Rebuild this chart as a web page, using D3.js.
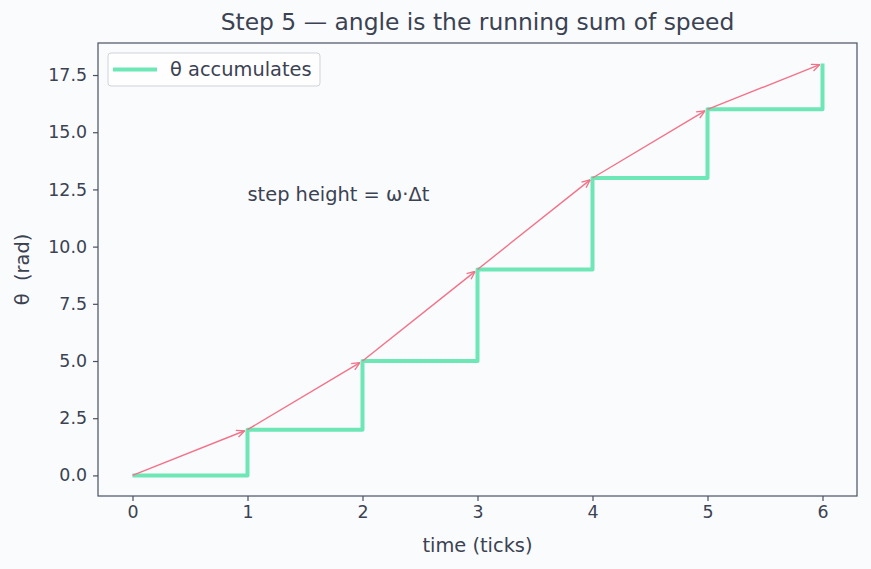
<!DOCTYPE html>
<html lang="en">
<head>
<meta charset="UTF-8">
<title>Step 5 — angle is the running sum of speed</title>
<script src="https://d3js.org/d3.v7.min.js"></script>
<style>
    body { margin: 0; padding: 0; background: #fafbfd; }
    svg { display: block; font-family: 'DejaVu Sans', sans-serif; }
    .tick text { font-size: 17.4px; fill: #3b4252; font-family: 'DejaVu Sans', sans-serif; }
    .tick line { stroke: #4a5063; stroke-width: 1.2; }
    .domain { display: none; }
</style>
</head>
<body>
<svg width="871" height="569"></svg>
<script>
    // time ticks and running angle at each tick
    const ticks = [0, 1, 2, 3, 4, 5, 6];
    const theta = [0, 2, 5, 9, 13, 16, 18];
    const xTicks = [0, 1, 2, 3, 4, 5, 6];
    const yTicks = [0, 2.5, 5, 7.5, 10, 12.5, 15, 17.5];

    const svg = d3.select("svg");
    const margin = { left: 98, right: 14, top: 43, bottom: 73 };
    const W = 871, H = 569;
    const textColor = "#3b4252";

    const x = d3.scaleLinear().domain([-0.3, 6.3]).range([margin.left, W - margin.right]);
    const y = d3.scaleLinear().domain([-0.9, 18.9]).range([H - margin.bottom, margin.top]);

    svg.append("rect").attr("width", W).attr("height", H).attr("fill", "#fafbfd");

    // title
    svg.append("text")
        .attr("x", (margin.left + W - margin.right) / 2)
        .attr("y", 30)
        .attr("text-anchor", "middle")
        .attr("font-size", 23.4)
        .attr("fill", textColor)
        .text("Step 5 — angle is the running sum of speed");

    // axes
    svg.append("g")
        .attr("transform", `translate(0,${H - margin.bottom})`)
        .call(d3.axisBottom(x).tickValues(xTicks).tickFormat(d3.format("d")).tickSizeOuter(0).tickSize(5).tickPadding(5));

    svg.append("g")
        .attr("transform", `translate(${margin.left},0)`)
        .call(d3.axisLeft(y).tickValues(yTicks).tickFormat(d3.format(".1f")).tickSizeOuter(0).tickSize(5).tickPadding(6));

    svg.selectAll(".tick text").attr("fill", textColor);

    // frame
    svg.append("rect")
        .attr("x", margin.left)
        .attr("y", margin.top)
        .attr("width", W - margin.right - margin.left)
        .attr("height", H - margin.bottom - margin.top)
        .attr("fill", "none")
        .attr("stroke", "#4a5063")
        .attr("stroke-width", 1.2);

    // axis labels
    svg.append("text")
        .attr("x", (margin.left + W - margin.right) / 2)
        .attr("y", 552)
        .attr("text-anchor", "middle")
        .attr("font-size", 19.4)
        .attr("fill", textColor)
        .text("time (ticks)");

    svg.append("text")
        .attr("transform", `translate(29,${(margin.top + H - margin.bottom) / 2}) rotate(-90)`)
        .attr("text-anchor", "middle")
        .attr("font-size", 19.4)
        .attr("fill", textColor)
        .style("white-space", "pre")
        .text("θ  (rad)");

    // staircase: flat for one tick, then jump
    const stepPts = [];
    ticks.forEach((t, i) => {
        stepPts.push([t, theta[i]]);
        if (i < ticks.length - 1) stepPts.push([ticks[i + 1], theta[i]]);
    });

    svg.append("path")
        .datum(stepPts)
        .attr("d", d3.line().x(d => x(d[0])).y(d => y(d[1])))
        .attr("fill", "none")
        .attr("stroke", "#6ee7b7")
        .attr("stroke-width", 4)
        .attr("stroke-linejoin", "round");

    // arrows, pulled back a little from the target point
    const arrowColor = "#f27389";
    svg.append("defs").append("marker")
        .attr("id", "arr")
        .attr("viewBox", "0 0 10 10")
        .attr("refX", 10).attr("refY", 5)
        .attr("markerWidth", 9).attr("markerHeight", 9)
        .attr("markerUnits", "userSpaceOnUse")
        .attr("orient", "auto")
        .append("path")
        .attr("d", "M1,1 L10,5 L1,9")
        .attr("fill", "none")
        .attr("stroke", arrowColor)
        .attr("stroke-width", 1.5);

    const shrink = 3;
    const arrows = ticks.slice(0, -1).map((t, i) => {
        const x1 = x(t), y1 = y(theta[i]);
        const x2 = x(ticks[i + 1]), y2 = y(theta[i + 1]);
        const len = Math.hypot(x2 - x1, y2 - y1);
        return { x1, y1, x2: x2 - (x2 - x1) / len * shrink, y2: y2 - (y2 - y1) / len * shrink };
    });

    svg.selectAll(".arrow")
        .data(arrows)
        .enter()
        .append("line")
        .attr("class", "arrow")
        .attr("x1", d => d.x1)
        .attr("y1", d => d.y1)
        .attr("x2", d => d.x2)
        .attr("y2", d => d.y2)
        .attr("stroke", arrowColor)
        .attr("stroke-width", 1.4)
        .attr("marker-end", "url(#arr)");

    // annotation
    svg.append("text")
        .attr("x", x(1))
        .attr("y", y(12))
        .attr("font-size", 19.4)
        .attr("fill", textColor)
        .text("step height = ω·Δt");

    // legend
    const lg = svg.append("g");
    lg.append("rect")
        .attr("x", 108).attr("y", 53)
        .attr("width", 212).attr("height", 33)
        .attr("rx", 3)
        .attr("fill", "#ffffff").attr("fill-opacity", 0.8)
        .attr("stroke", "#cfd3da");
    lg.append("line")
        .attr("x1", 113).attr("x2", 157)
        .attr("y1", 69.5).attr("y2", 69.5)
        .attr("stroke", "#6ee7b7").attr("stroke-width", 4);
    lg.append("text")
        .attr("x", 170).attr("y", 76)
        .attr("font-size", 19.4)
        .attr("fill", textColor)
        .text("θ accumulates");
</script>
</body>
</html>
